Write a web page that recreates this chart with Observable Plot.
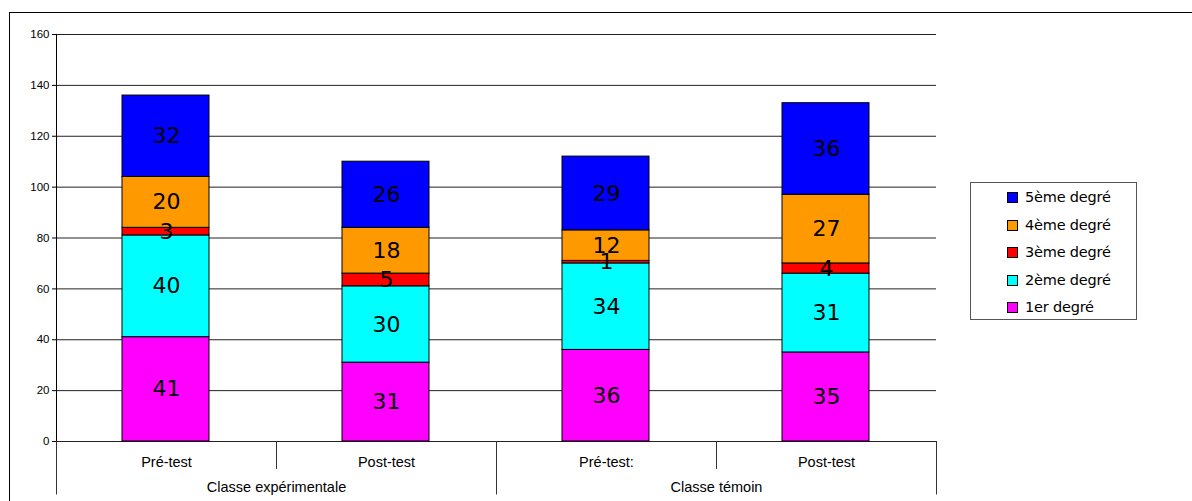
<!DOCTYPE html>
<html><head><meta charset="utf-8">
<script src="https://cdn.jsdelivr.net/npm/d3@7"></script>
<script src="https://cdn.jsdelivr.net/npm/@observablehq/plot@0.6"></script>
<style>
body{margin:0;background:#fff;font-family:"Liberation Sans",Arial,sans-serif}
#wrap{position:relative;width:1192px;height:501px;overflow:hidden}
#frame{position:absolute;left:9px;top:12px;width:1200px;height:600px;border:1.5px solid #000;box-sizing:border-box}
#chart{position:absolute;left:0;top:0}
#legend{position:absolute;left:970px;top:182px;width:167px;height:138px;border:1px solid #555;box-sizing:border-box;background:#fff}
.item{position:absolute;left:36px;font-family:"DejaVu Sans",sans-serif;font-size:14.5px;color:#000;line-height:16px;height:16px}
.sw{position:absolute;left:0;top:3px;width:9px;height:9px;border:1px solid #000}
.item span{position:absolute;left:18px;white-space:nowrap;letter-spacing:-0.2px}
</style></head><body>
<div id="wrap"><div id="frame"></div><div id="chart"></div><div id="legend"></div></div>
<script>
const phases = ["Pré-test", "Post-test", "Pré-test:", "Post-test"];
const groups = ["Classe expérimentale", "Classe témoin"];
const degrees = ["1er degré", "2ème degré", "3ème degré", "4ème degré", "5ème degré"];
const colors = ["#FF00FF", "#00FFFF", "#FF0000", "#FF9900", "#0000FF"];
const deg1 = [41, 31, 36, 35];
const deg2 = [40, 30, 34, 31];
const deg3 = [3, 5, 1, 4];
const deg4 = [20, 18, 12, 27];
const deg5 = [32, 26, 29, 36];
const yTicks = [0, 20, 40, 60, 80, 100, 120, 140, 160];

const series = [deg1, deg2, deg3, deg4, deg5];
const data = [];
series.forEach((vals, s) => vals.forEach((v, i) => data.push({i, degree: degrees[s], value: v})));

// category axis levels (in y units below zero)
const phaseLabelY = -8.3, groupLabelY = -18.2, shortSepY = -11, longSepY = -21;
const seps = [0, 1, 2, 3, 4].map(x => ({x, y2: x % 2 === 0 ? longSepY : shortSepY}));
const phaseLabels = phases.map((p, i) => ({x: i + 0.5, label: p}));
const groupLabels = groups.map((g, k) => ({x: 2 * k + 1, label: g}));

const plot = Plot.plot({
  width: 1192, height: 501,
  marginLeft: 56, marginRight: 256, marginTop: 34, marginBottom: 60,
  style: {background: "transparent", fontFamily: "Liberation Sans, Arial, sans-serif"},
  x: {domain: [0, 4], axis: null},
  y: {domain: [0, 160], ticks: yTicks, tickSize: 4, tickPadding: 3, label: null, tickFormat: d => d},
  color: {domain: degrees, range: colors},
  marks: [
    Plot.ruleY(yTicks, {stroke: "#222", strokeWidth: 1}),
    Plot.ruleX([0], {y1: 0, y2: 160, stroke: "#000"}),
    Plot.axisY({ticks: yTicks, tickSize: 4, tickPadding: 3, fontSize: 11.5, label: null, stroke: "#000"}),
    Plot.rectY(data, Plot.stackY({x1: "i", x2: d => d.i + 1, y: "value", fill: "degree", stroke: "#000", strokeWidth: 1, insetLeft: 66, insetRight: 67})),
    Plot.text(data, Plot.stackY({x: d => d.i + 0.5, y: "value", z: "degree", text: "value", fontSize: 22, fontFamily: "DejaVu Sans, sans-serif", fill: "#000"})),
    Plot.ruleX(seps, {x: "x", y1: 0, y2: "y2", stroke: "#333"}),
    Plot.text(phaseLabels, {x: "x", y: phaseLabelY, text: "label", fontSize: 14.5, fill: "#000"}),
    Plot.text(groupLabels, {x: "x", y: groupLabelY, text: "label", fontSize: 14.5, fill: "#000"})
  ]
});
document.getElementById("chart").appendChild(plot);

const legend = document.getElementById("legend");
degrees.slice().reverse().forEach((d, k) => {
  const item = document.createElement("div");
  item.className = "item";
  item.style.top = (6 + k * 27.5) + "px";
  const sw = document.createElement("div");
  sw.className = "sw";
  sw.style.background = colors[degrees.indexOf(d)];
  const t = document.createElement("span");
  t.textContent = d;
  item.appendChild(sw); item.appendChild(t);
  legend.appendChild(item);
});
</script>
</body></html>
